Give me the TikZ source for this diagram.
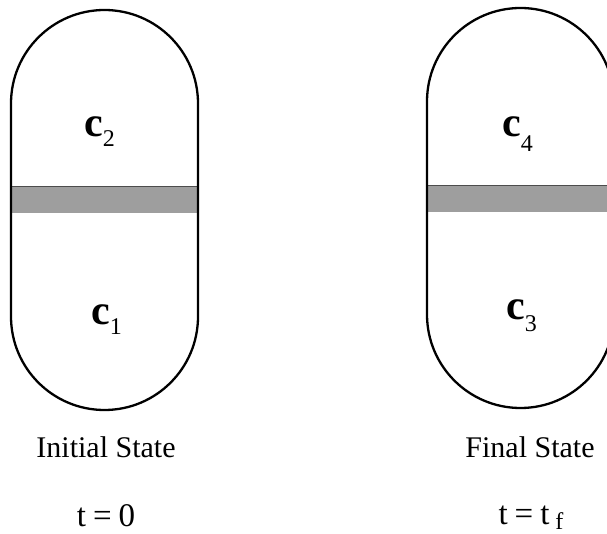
\documentclass[tikz,border=0pt]{standalone}
\usepackage{fontspec}
\setmainfont{Liberation Serif}
\begin{document}
\begin{tikzpicture}[x=1pt,y=1pt,
  vessel/.style={line width=2.3pt, line join=round},
  band/.style={fill=black!38, draw=none},
  conc/.style={anchor=base west, inner sep=0pt},
  caption/.style={anchor=base, inner sep=0pt, font=\fontsize{30}{30}\selectfont},
  timelbl/.style={anchor=base, inner sep=0pt, font=\fontsize{33}{33}\selectfont}]
\useasboundingbox (0,0) rectangle (607,533);
\clip (0,0) rectangle (607,533);
% bands
\fill[band] (11,320) rectangle (198,346);
\fill[band] (427,321) rectangle (614,347);
\draw[black!70, line width=1pt] (11,346) -- (198,346);
\draw[black!70, line width=1pt] (427,347) -- (614,347);
% left vessel
\draw[vessel] (11,216.5) -- (11,429.5) arc[start angle=180,end angle=0,radius=93.5]
  -- (198,216.5) arc[start angle=0,end angle=-180,radius=93.5] -- cycle;
% right vessel
\draw[vessel] (427,218.5) -- (427,431.5) arc[start angle=180,end angle=0,radius=93.5]
  -- (614,218.5) arc[start angle=0,end angle=-180,radius=93.5] -- cycle;
% labels
\node[conc] (c2) at (84,396) {\fontsize{42}{42}\selectfont\bfseries c\raisebox{-10pt}{\mdseries\fontsize{24}{24}\selectfont 2}};
\node[conc] (c1) at (91,208) {\fontsize{42}{42}\selectfont\bfseries c\raisebox{-10pt}{\mdseries\fontsize{24}{24}\selectfont 1}};
\node[conc] (c4) at (502,396) {\fontsize{42}{42}\selectfont\bfseries c\raisebox{-15pt}{\mdseries\fontsize{24}{24}\selectfont 4}};
\node[conc] (c3) at (506,213) {\fontsize{42}{42}\selectfont\bfseries c\raisebox{-12pt}{\mdseries\fontsize{24}{24}\selectfont 3}};
\node[caption] (init) at (106,76) {Initial State};
\node[caption] (final) at (530,76) {Final State};
\node[timelbl] (t0) at (106,7) {t\hspace{7pt}=\hspace{7pt}0};
\node[timelbl] (tf) at (531,9) {t\hspace{7pt}=\hspace{7pt}t\hspace{6pt}\raisebox{-5pt}{\fontsize{24}{24}\selectfont f}};
\end{tikzpicture}
\end{document}
